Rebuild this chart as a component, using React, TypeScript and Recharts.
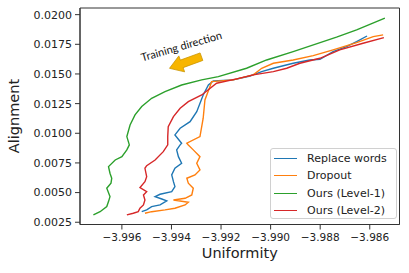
import React from "react"
import { LineChart, Line, XAxis, YAxis, Legend, ReferenceArea, Label } from "recharts"

// ---- data (uniformity, alignment) ----
const replaceWordsU = [-3.9952, -3.995, -3.9948, -3.99446, -3.99419, -3.99439, -3.99466, -3.99446, -3.99399, -3.99386, -3.99392, -3.99399, -3.99386, -3.99359, -3.99372, -3.99379, -3.99365, -3.99359, -3.99386, -3.99365, -3.99325, -3.99298, -3.99272, -3.99251, -3.99231, -3.99151, -3.99083, -3.99036, -3.98989, -3.98909, -3.98842, -3.98801, -3.98748, -3.98694, -3.98653, -3.98611]
const replaceWordsA = [0.00339, 0.00354, 0.00382, 0.00396, 0.0043, 0.00446, 0.00466, 0.00486, 0.00508, 0.0055, 0.00592, 0.00649, 0.00705, 0.00747, 0.00803, 0.0086, 0.00902, 0.00916, 0.00986, 0.01042, 0.01098, 0.01182, 0.01323, 0.01407, 0.01441, 0.0145, 0.01483, 0.0152, 0.01548, 0.0159, 0.01618, 0.01624, 0.01688, 0.0173, 0.01772, 0.0182]

const dropoutU = [-3.99507, -3.9948, -3.99426, -3.99386, -3.99345, -3.99332, -3.99392, -3.99345, -3.99318, -3.99312, -3.99332, -3.99338, -3.99305, -3.99285, -3.99298, -3.99285, -3.99312, -3.99332, -3.99338, -3.99285, -3.99272, -3.99265, -3.99245, -3.99238, -3.99151, -3.9907, -3.99036, -3.98989, -3.98909, -3.98828, -3.98748, -3.98653, -3.98586, -3.98546]
const dropoutA = [0.00326, 0.00339, 0.00354, 0.00368, 0.00396, 0.00419, 0.00438, 0.00452, 0.0048, 0.00537, 0.00579, 0.00621, 0.00649, 0.00691, 0.00747, 0.00803, 0.0086, 0.00902, 0.00916, 0.00972, 0.01127, 0.01281, 0.01393, 0.01435, 0.0145, 0.01492, 0.01548, 0.0159, 0.01618, 0.01654, 0.01703, 0.01764, 0.01815, 0.01829]

const level1U = [-3.99715, -3.99688, -3.99661, -3.99654, -3.99648, -3.99661, -3.99644, -3.99641, -3.99648, -3.99654, -3.99627, -3.996, -3.9958, -3.9957, -3.9958, -3.99567, -3.99547, -3.9952, -3.9948, -3.99426, -3.99359, -3.99278, -3.99211, -3.99097, -3.99016, -3.98909, -3.98734, -3.98653, -3.98539]
const level1A = [0.00312, 0.00339, 0.00382, 0.00424, 0.00466, 0.00537, 0.00579, 0.00621, 0.00663, 0.00719, 0.00775, 0.00803, 0.0086, 0.00902, 0.00972, 0.0107, 0.01155, 0.01225, 0.01295, 0.01351, 0.01407, 0.0145, 0.01477, 0.01548, 0.01618, 0.01688, 0.0181, 0.01871, 0.0197]

const level2U = [-3.9958, -3.99554, -3.99534, -3.99527, -3.99513, -3.99507, -3.99513, -3.995, -3.99527, -3.99507, -3.995, -3.99507, -3.995, -3.99466, -3.99433, -3.99415, -3.99415, -3.99413, -3.99392, -3.99365, -3.99332, -3.99278, -3.99218, -3.99137, -3.9907, -3.98989, -3.98935, -3.98882, -3.98801, -3.98721, -3.98627, -3.98543]
const level2A = [0.00312, 0.00326, 0.00339, 0.00368, 0.00396, 0.00438, 0.0048, 0.00508, 0.00542, 0.00592, 0.00634, 0.00705, 0.00727, 0.00775, 0.00845, 0.00902, 0.00972, 0.01056, 0.0114, 0.01211, 0.01267, 0.01323, 0.01422, 0.01458, 0.01492, 0.0152, 0.01548, 0.0159, 0.01632, 0.01703, 0.01759, 0.01806]

const xTicks = [-3.996, -3.994, -3.992, -3.99, -3.988, -3.986]
const yTicks = [0.0025, 0.005, 0.0075, 0.01, 0.0125, 0.015, 0.0175, 0.02]
const xDomain = [-3.99769, -3.9848]
const yDomain = [0.00231, 0.02056]

const zip = (u: number[], a: number[]) => u.map((x, i) => ({ x, y: a[i] }))

const series = [
  { name: "Replace words", color: "#1f77b4", data: zip(replaceWordsU, replaceWordsA) },
  { name: "Dropout", color: "#ff7f0e", data: zip(dropoutU, dropoutA) },
  { name: "Ours (Level-1)", color: "#2ca02c", data: zip(level1U, level1A) },
  { name: "Ours (Level-2)", color: "#d62728", data: zip(level2U, level2A) },
]

const FONT = "DejaVu Sans"
const INK = "#222"

// legend follows series order (payload order from recharts gets shuffled)
function LegendBox() {
  return (
    <div
      style={{
        width: 127,
        height: 71,
        boxSizing: "border-box",
        border: "1px solid #d0d0d0",
        borderRadius: 3,
        background: "rgba(255,255,255,0.85)",
        paddingTop: 1,
        fontFamily: FONT,
        fontSize: 11,
        color: INK,
      }}
    >
      {series.map((s) => (
        <div key={s.name} style={{ display: "flex", alignItems: "center", height: 17.3 }}>
          <div style={{ width: 23, height: 0, borderTop: `1.5px solid ${s.color}`, marginLeft: 3, marginRight: 10 }} />
          <span style={{ whiteSpace: "nowrap" }}>{s.name}</span>
        </div>
      ))}
    </div>
  )
}

export default function App() {
  return (
    <div style={{ position: "absolute", left: 0, top: 0, width: 409, height: 273 }}>
      <LineChart width={409} height={273} margin={{ top: 8, right: 9.5, left: 0, bottom: 0 }}>
        <XAxis
          dataKey="x"
          type="number"
          domain={xDomain}
          ticks={xTicks}
          allowDataOverflow
          height={48.5}
          tickSize={5}
          tickMargin={4}
          stroke="#333"
          tick={{ fill: INK, fontSize: 10.5, fontFamily: FONT }}
          tickFormatter={(v: number) => "\u2212" + Math.abs(v).toFixed(3)}
        >
          <Label value="Uniformity" position="insideBottom" offset={15} fill={INK} fontSize={14.5} fontFamily={FONT} />
        </XAxis>
        <YAxis
          type="number"
          domain={yDomain}
          ticks={yTicks}
          allowDataOverflow
          width={80}
          tickSize={5}
          tickMargin={3}
          stroke="#333"
          tick={{ fill: INK, fontSize: 11, fontFamily: FONT }}
          tickFormatter={(v: number) => v.toFixed(4)}
        >
          <Label
            content={() => (
              <text x={0} y={0} transform="translate(19,116) rotate(-90)" textAnchor="middle" fill={INK} fontSize={14.5} fontFamily={FONT}>
                Alignment
              </text>
            )}
          />
        </YAxis>
        <ReferenceArea x1={xDomain[0]} x2={xDomain[1]} y1={yDomain[0]} y2={yDomain[1]} fill="none" stroke="#333" strokeOpacity={1} />
        {series.map((s) => (
          <Line
            key={s.name}
            data={s.data}
            dataKey="y"
            name={s.name}
            type="linear"
            stroke={s.color}
            strokeWidth={1.4}
            dot={false}
            activeDot={false}
            isAnimationActive={false}
          />
        ))}
        <Legend
          layout="vertical"
          align="center"
          verticalAlign="middle"
          content={LegendBox}
          wrapperStyle={{ left: 270, top: 148, width: 127 }}
        />
      </LineChart>
      <svg width={409} height={273} style={{ position: "absolute", left: 0, top: 0, pointerEvents: "none" }}>
        <text
          x={182.5}
          y={50}
          transform="rotate(-16 182.5 50)"
          textAnchor="middle"
          fontFamily="Lato"
          fontSize={11}
          fill="#111"
        >
          Training direction
        </text>
        <g transform="translate(185.5 62.5) rotate(160)">
          <polygon points="-17,-4 4,-4 4,-8.5 17,0 4,8.5 4,4 -17,4" fill="#f7b500" stroke="#c99400" strokeWidth={0.7} />
        </g>
      </svg>
    </div>
  )
}
